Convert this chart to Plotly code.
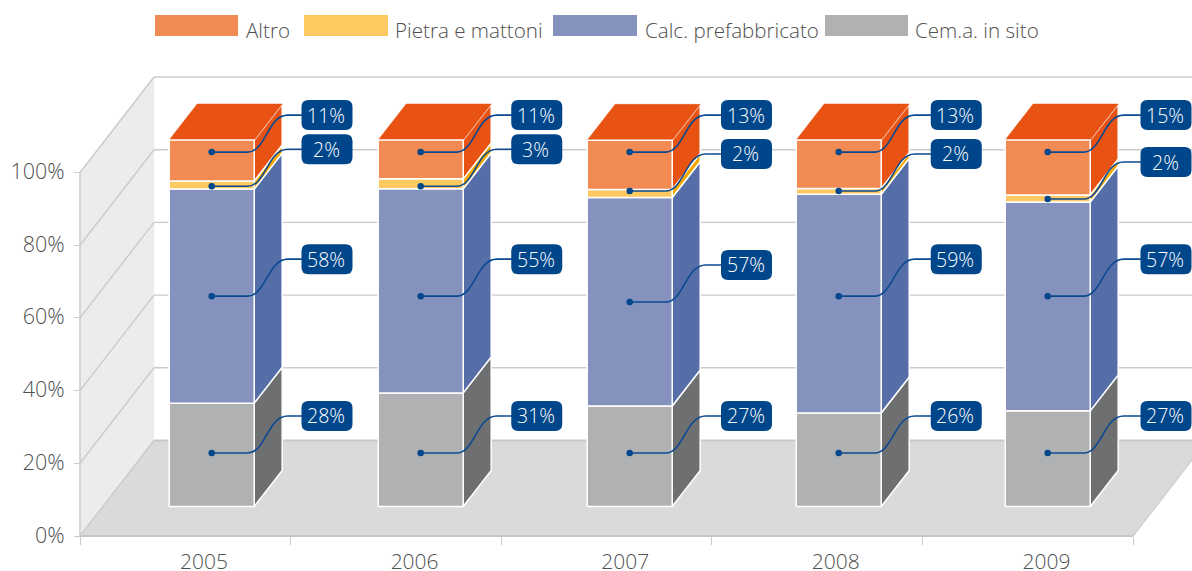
import plotly.graph_objects as go

# ---------- data ----------
YEARS = ["2005", "2006", "2007", "2008", "2009"]
SERIES = ["Cem.a. in sito", "Calc. prefabbricato", "Pietra e mattoni", "Altro"]
CEMENT = [28.2, 31.0, 27.4, 25.5, 26.1]
PRECAST = [58.4, 55.7, 56.9, 59.7, 57.0]
STONE = [2.2, 2.7, 2.2, 1.6, 1.9]
OTHER = [11.2, 10.6, 13.4, 13.2, 15.0]
LABEL_CEMENT = [28, 31, 27, 26, 27]
LABEL_PRECAST = [58, 55, 57, 59, 57]
LABEL_STONE = [2, 3, 2, 2, 2]
LABEL_OTHER = [11, 11, 13, 13, 15]
# level (cumulative %) at which each callout is pinned
PIN_CEMENT = [14.6, 14.6, 14.6, 14.6, 14.6]
PIN_PRECAST = [57.4, 57.4, 55.8, 57.4, 57.4]
PIN_STONE = [87.4, 87.4, 86.1, 86.1, 83.9]
PIN_OTHER = [96.7, 96.7, 96.7, 96.7, 96.7]
Y_TICKS = [0, 20, 40, 60, 80, 100]

# ---------- styles / geometry ----------
W, H = 1192, 571
X0_PX, CAT_PX, Y0_PX, PCT_PX = 80, 210.6, 536, 3.635
FRONT = ["#B0B1B3", "#8592BE", "#FFC961", "#F28A54"]
SIDE = ["#6E6F71", "#556EA8", "#F5A800", "#E85212"]
TOP = "#E85212"
NAVY = "#00468B"
GRID = "#CBCBCB"
TXT = "#505050"
FONT = "Open Sans"
WEIGHT = 300

WALL_DX, WALL_DY = 74 / CAT_PX, 95.5 / PCT_PX
BAR_W = 85 / CAT_PX
BAR_DX, BAR_DY = 28 / CAT_PX, 36 / PCT_PX
BAR_BASE = 29.5 / PCT_PX
BAR_SCALE = 3.665 / PCT_PX
BAR_C0, BAR_STEP = (211.7 - X0_PX) / CAT_PX, 209.0 / CAT_PX
BOX_C0, BOX_STEP = (327 - X0_PX) / CAT_PX, 209.75 / CAT_PX
PXX, PXY = 1 / CAT_PX, 1 / PCT_PX


def level(v):
    return BAR_BASE + v * BAR_SCALE


def poly(xs, ys, fill, line=None, lw=1.5):
    return go.Scatter(x=xs + xs[:1], y=ys + ys[:1], mode="lines", fill="toself", fillcolor=fill,
                      line=dict(color=line or fill, width=lw if line else 0.5),
                      hoverinfo="skip", showlegend=False)


def seg(xs, ys, color=GRID, lw=1.4):
    return go.Scatter(x=xs, y=ys, mode="lines", line=dict(color=color, width=lw),
                      hoverinfo="skip", showlegend=False)


fig = go.Figure()
n = len(YEARS)

# walls and floor
fig.add_trace(poly([0, WALL_DX, WALL_DX, 0], [0, WALL_DY, 100 + WALL_DY, 100], "#EBEDEC"))
fig.add_trace(poly([0, WALL_DX, n + WALL_DX, n], [0, WALL_DY, WALL_DY, 0], "#D9DADC"))
for t in Y_TICKS:
    if t > 0:
        fig.add_trace(seg([WALL_DX, n + WALL_DX], [t + WALL_DY, t + WALL_DY]))
    fig.add_trace(seg([0, WALL_DX], [t, t + WALL_DY]))
fig.add_trace(seg([WALL_DX, n + WALL_DX], [WALL_DY, WALL_DY], "#C6C7C8", 2.2))
fig.add_trace(seg([n, n + WALL_DX], [0, WALL_DY], "#CFCFD0", 1.4))
fig.add_trace(seg([0, n], [0, 0], "#C6C7C8", 2.2))
fig.add_trace(seg([0, 0], [0, 100]))

stacks = list(zip(CEMENT, PRECAST, STONE, OTHER))
labels = list(zip(LABEL_CEMENT, LABEL_PRECAST, LABEL_STONE, LABEL_OTHER))
pins = list(zip(PIN_CEMENT, PIN_PRECAST, PIN_STONE, PIN_OTHER))
shapes, annos = [], []

for i in range(n):
    c = BAR_C0 + BAR_STEP * i
    l, r = c - BAR_W / 2, c + BAR_W / 2
    bottom = 0.0
    faces = []
    for s, v in enumerate(stacks[i]):
        top = bottom + v
        y0, y1 = level(bottom), level(top)
        fig.add_trace(poly([r, r + BAR_DX, r + BAR_DX, r], [y0, y0 + BAR_DY, y1 + BAR_DY, y1],
                           SIDE[s], "#FFFFFF", 1.5))
        faces.append((l, r, y0, y1, FRONT[s]))
        bottom = top
    y1 = level(bottom)
    fig.add_trace(poly([l, l + BAR_DX, r + BAR_DX, r], [y1, y1 + BAR_DY, y1 + BAR_DY, y1], TOP))
    for (a, b, y0, y1_, col) in faces:
        fig.add_trace(poly([a, b, b, a], [y0, y0, y1_, y1_], col, "#FFFFFF", 1.5))

    # callouts
    for s in range(4):
        py = level(pins[i][s])
        ly = py + 37 * PXY
        bx = BOX_C0 + BOX_STEP * i
        p = (f"M {c},{py} L {c + 36 * PXX},{py} "
             f"C {c + 54 * PXX},{py} {c + 56 * PXX},{ly} {c + 76 * PXX},{ly} L {bx},{ly}")
        shapes.append(dict(type="path", xref="x", yref="y", path=p, line=dict(color="#0B4A90", width=1.6)))
        shapes.append(dict(type="path", xref="x", yref="y", xsizemode="pixel", ysizemode="pixel",
                           xanchor=bx, yanchor=ly, fillcolor=NAVY, line=dict(width=0),
                           path="M -18.5,-15 Q -25.5,-15 -25.5,-8 L -25.5,8 Q -25.5,15 -18.5,15 L 18.5,15 "
                                "Q 25.5,15 25.5,8 L 25.5,-8 Q 25.5,-15 18.5,-15 Z"))
        annos.append(dict(x=bx - 1 * PXX, y=ly, xref="x", yref="y", text=f"{labels[i][s]}%", showarrow=False,
                          font=dict(family=FONT, size=19.5, color="#FFFFFF", weight=WEIGHT)))
        fig.add_trace(go.Scatter(x=[c], y=[py], mode="markers", marker=dict(color=NAVY, size=6.5),
                                 hoverinfo="skip", showlegend=False))

# legend (top row, drawn in page fractions)
legend_items = [(3, 155, 238, 244), (2, 304, 388, 393), (1, 553, 637, 643), (0, 825, 908, 913)]
for s, a, b, t in legend_items:
    shapes.append(dict(type="rect", xref="paper", yref="paper", x0=a / W, x1=b / W,
                       y0=1 - 36 / H, y1=1 - 15 / H, fillcolor=FRONT[s], line=dict(width=0)))
    annos.append(dict(x=t / W, y=1 - 30 / H, xref="paper", yref="paper", xanchor="left", yanchor="middle",
                      text=SERIES[s], showarrow=False, font=dict(family=FONT, size=20.6, color=TXT, weight=WEIGHT)))

fig.update_layout(
    width=W, height=H, margin=dict(l=0, r=0, t=0, b=0), autosize=False,
    paper_bgcolor="#FFFFFF", plot_bgcolor="#FFFFFF", showlegend=False,
    shapes=shapes, annotations=annos, hovermode=False,
    xaxis=dict(range=[-X0_PX / CAT_PX, (W - X0_PX) / CAT_PX], domain=[0, 1], anchor="free",
               position=(H - Y0_PX) / H, showgrid=False, zeroline=False, showline=False, automargin=False,
               tickmode="array", tickvals=[(204 - X0_PX) / CAT_PX + k for k in range(n)], ticktext=YEARS,
               ticks="", ticklabelstandoff=11, tickfont=dict(family=FONT, size=21, color=TXT, weight=WEIGHT),
               minor=dict(tickmode="array", tickvals=list(range(n + 1)), ticks="outside", ticklen=8,
                          tickcolor=GRID, tickwidth=1.4, showgrid=False)),
    yaxis=dict(range=[(Y0_PX - H) / PCT_PX, Y0_PX / PCT_PX], domain=[0, 1], anchor="free",
               position=X0_PX / W, showgrid=False, zeroline=False, showline=False, automargin=False,
               tickmode="array", tickvals=Y_TICKS, ticktext=[f"{t}%" for t in Y_TICKS], ticks="outside", ticklen=6,
               ticklabelstandoff=5, ticklabelshift=-1,
               tickcolor=GRID, tickwidth=1.4, tickfont=dict(family=FONT, size=21.5, color=TXT, weight=WEIGHT)),
)

fig.write_html("out.html", config={"displayModeBar": False},
               post_script="document.body.style.margin='0';")
